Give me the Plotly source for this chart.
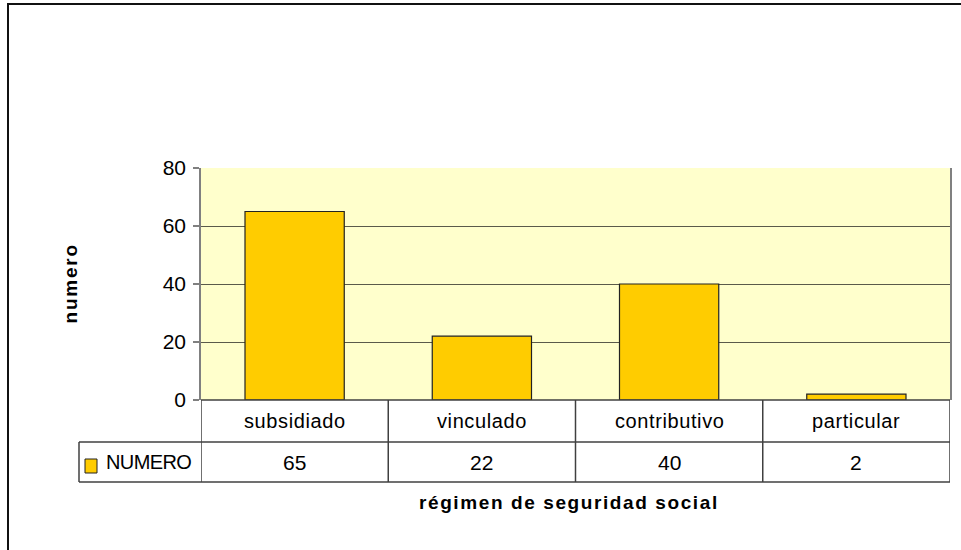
import plotly.graph_objects as go

categories = ["subsidiado", "vinculado", "contributivo", "particular"]
values = [65, 22, 40, 2]
series_name = "NUMERO"
y_ticks = [0, 20, 40, 60, 80]
x_title = "régimen de seguridad social"
y_title = "numero"

W, H = 961, 550
def px(x):
    return x / W
def py(y):
    return 1 - y / H

FONT = "Liberation Sans, Arial, sans-serif"
LINE = "#404040"
GRID = "#5a5a4a"

fig = go.Figure()
fig.add_trace(go.Bar(
    x=categories, y=values, name=series_name,
    marker=dict(color="#FFCC00", line=dict(color="#222222", width=1.2)),
))

plot_l, plot_r, plot_t, plot_b = 201, 950, 168, 400
row1_b, row2_b = 442, 482
leg_l = 79

shapes = []
shapes.append(dict(type="rect", xref="paper", yref="paper", x0=px(8), x1=px(W + 20),
                   y0=py(4), y1=py(H + 20), line=dict(color="#111111", width=2)))
shapes.append(dict(type="line", xref="paper", yref="paper", x0=px(plot_l), x1=px(plot_r),
                   y0=py(plot_b), y1=py(plot_b), line=dict(color=LINE, width=1.5)))
for yy in (row1_b, row2_b):
    shapes.append(dict(type="line", xref="paper", yref="paper", x0=px(leg_l), x1=px(plot_r),
                       y0=py(yy), y1=py(yy), line=dict(color=LINE, width=1.5)))
n = len(categories)
for i in range(n + 1):
    shapes.append(dict(type="line", xref="x", yref="paper", x0=i - 0.5, x1=i - 0.5,
                       y0=py(plot_b), y1=py(row2_b), line=dict(color=LINE, width=1.5)))
shapes.append(dict(type="line", xref="paper", yref="paper", x0=px(leg_l), x1=px(leg_l),
                   y0=py(row1_b), y1=py(row2_b), line=dict(color=LINE, width=1.5)))
shapes.append(dict(type="rect", xref="paper", yref="paper", x0=px(85), x1=px(97),
                   y0=py(473), y1=py(459), fillcolor="#FFCC00",
                   line=dict(color="#222222", width=1)))

def spaced(t, sp):
    return '<span style="letter-spacing:%spx">%s</span>' % (sp, t)

annotations = []
for i, (c, v) in enumerate(zip(categories, values)):
    annotations.append(dict(x=i, y=py((plot_b + row1_b) / 2), xref="x", yref="paper",
                            yanchor="middle", text=spaced(c, 0.6), showarrow=False,
                            font=dict(size=20, color="#000", family=FONT)))
    annotations.append(dict(x=i, y=py((row1_b + row2_b) / 2), xref="x", yref="paper",
                            yanchor="middle", text=str(v), showarrow=False,
                            font=dict(size=21, color="#000", family=FONT)))
annotations.append(dict(x=px(104), y=py((row1_b + row2_b) / 2), xref="paper", yref="paper",
                        yanchor="middle", text=spaced(series_name, -0.6), showarrow=False,
                        xanchor="left", font=dict(size=20, color="#000", family=FONT)))
annotations.append(dict(x=px(569), y=py(502), xref="paper", yref="paper",
                        yanchor="middle", text="<b>" + spaced(x_title, 1.6) + "</b>",
                        showarrow=False, font=dict(size=19, color="#000", family=FONT)))
annotations.append(dict(x=px(57), y=py(284), xref="paper", yref="paper",
                        yanchor="middle", text="<b>" + spaced(y_title, 1.8) + "</b>",
                        showarrow=False, textangle=-90,
                        font=dict(size=19, color="#000", family=FONT)))

fig.update_layout(
    width=W, height=H,
    autosize=False,
    margin=dict(l=0, r=0, t=0, b=0, pad=0, autoexpand=False),
    paper_bgcolor="white",
    plot_bgcolor="#FFFFCC",
    showlegend=False,
    bargap=0.47,
    font=dict(family=FONT, size=20, color="#000"),
    xaxis=dict(domain=[px(plot_l), px(plot_r)], range=[-0.5, n - 0.5],
               showticklabels=False, ticks="", showgrid=False, zeroline=False,
               showline=False, fixedrange=True, automargin=False),
    yaxis=dict(domain=[py(plot_b), py(plot_t)], range=[0, 80], tickvals=y_ticks,
               ticks="outside", ticklen=6, tickcolor="#808080", tickwidth=1.5,
               showline=True, linecolor="#808080", linewidth=1.5, mirror=True,
               showgrid=True, gridcolor=GRID, gridwidth=1.2, zeroline=False,
               ticklabelstandoff=3,
               tickfont=dict(size=21, family=FONT, color="#000"), fixedrange=True,
               automargin=False),
    shapes=shapes,
    annotations=annotations,
)

fig.write_html(
    "out.html",
    config={"displayModeBar": False, "responsive": False},
    post_script="document.body.style.margin='0';document.body.style.overflow='hidden';",
)
